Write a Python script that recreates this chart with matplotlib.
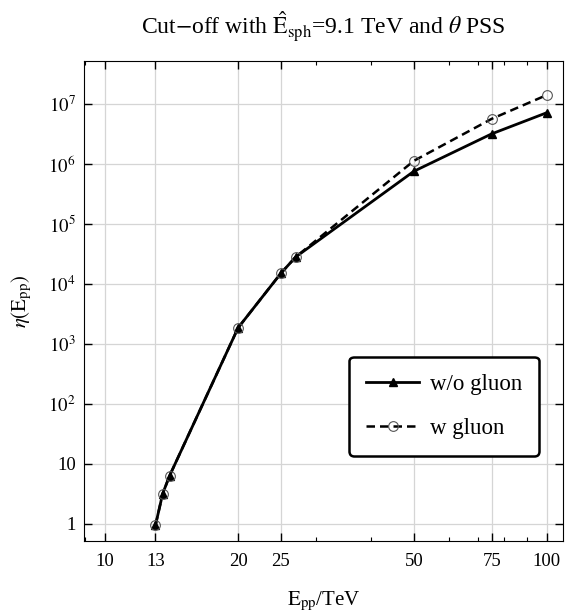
import matplotlib
matplotlib.use("Agg")
import matplotlib.pyplot as plt
from matplotlib.ticker import FixedLocator, FixedFormatter, LogLocator, NullFormatter

plt.rcParams['font.family'] = ['Liberation Serif', 'DejaVu Serif']
plt.rcParams['mathtext.fontset'] = 'stix'

# data
e_pp = [13, 13.5, 14, 20, 25, 27, 50, 75, 100]
eta_no_gluon = [0.95, 3.2, 6.4, 1.85e3, 1.5e4, 2.8e4, 7.5e5, 3.15e6, 7.1e6]
eta_gluon = [0.95, 3.2, 6.4, 1.85e3, 1.5e4, 2.8e4, 1.12e6, 5.6e6, 1.4e7]

x_ticks = [10, 13, 20, 25, 50, 75, 100]
y_ticks = [1, 10, 1e2, 1e3, 1e4, 1e5, 1e6, 1e7]
y_labels = ['1', '10', r'$10^2$', r'$10^3$', r'$10^4$', r'$10^5$', r'$10^6$', r'$10^7$']

fig = plt.figure(figsize=(5.72, 6.14), dpi=100)
ax = fig.add_axes([0.147, 0.119, 0.837, 0.782])

ax.plot(e_pp, eta_no_gluon, color='black', lw=2, marker='^', ms=6,
        label='w/o gluon', zorder=3)
ax.plot(e_pp, eta_gluon, color='black', lw=1.8, ls=(0, (3.4, 2)), marker='o', ms=7,
        mfc='none', mec='#555555', mew=0.8, label='w gluon', zorder=4)

ax.set_xscale('log')
ax.set_yscale('log')
ax.set_xlim(8.96, 108.7)
ax.set_ylim(0.52, 5.2e7)

ax.xaxis.set_major_locator(FixedLocator(x_ticks))
ax.xaxis.set_major_formatter(FixedFormatter([str(t) for t in x_ticks]))
ax.xaxis.set_minor_locator(LogLocator(base=10, subs=range(1, 10), numticks=20))
ax.xaxis.set_minor_formatter(NullFormatter())
ax.yaxis.set_major_locator(FixedLocator(y_ticks))
ax.yaxis.set_major_formatter(FixedFormatter(y_labels))
ax.yaxis.set_minor_locator(FixedLocator([]))

ax.tick_params(which='both', direction='in', top=True, right=True, labelsize=13.5)
ax.tick_params(which='major', length=6, width=1)
ax.tick_params(which='minor', length=3, width=0.8)
ax.tick_params(axis='x', pad=9)
ax.tick_params(axis='y', pad=6)
ax.grid(True, which='major', color='#d5d5d5', lw=0.9)
ax.set_axisbelow(True)

ax.set_title(r'Cut$-$off with $\hat{\mathrm{E}}_{\mathrm{sph}}$=9.1 TeV and $\theta$ PSS',
             fontsize=17, pad=19)
ax.set_xlabel(r'$\mathrm{E}_{\mathrm{pp}}$/TeV', fontsize=15, labelpad=14)
ax.set_ylabel(r'$\eta(\mathrm{E}_{\mathrm{pp}})$', fontsize=15, labelpad=10)

leg = ax.legend(loc='lower right', bbox_to_anchor=(0.974, 0.153), fontsize=16.5,
                handlelength=2.3, handletextpad=0.45, borderpad=0.75, labelspacing=1.0,
                fancybox=True, framealpha=1, edgecolor='black')
leg.get_frame().set_linewidth(1.8)

fig.savefig('out.png', dpi=100)
